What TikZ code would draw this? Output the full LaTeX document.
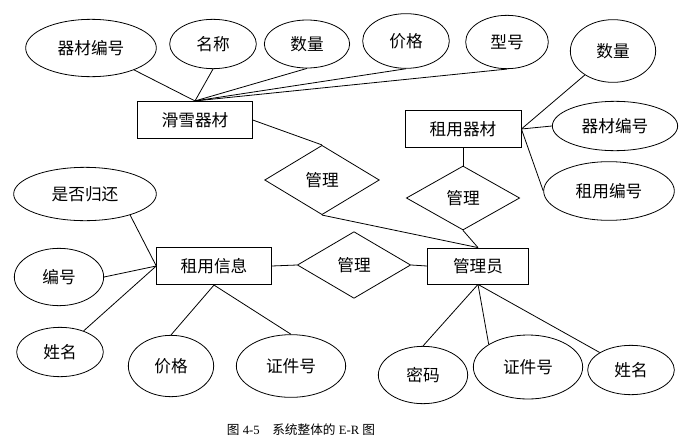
\documentclass[tikz,border=0pt]{standalone}
\usepackage{fontspec}
\setmainfont{Liberation Serif}
\newfontfamily\cjk{Noto Sans CJK SC}
\usetikzlibrary{shapes.geometric}

\tikzset{
    attr/.style={draw, ellipse, inner sep=0pt, font=\cjk\fontsize{12.5}{14}\selectfont},
    entity/.style={draw, rectangle, inner sep=0pt, font=\cjk\fontsize{12.5}{14}\selectfont},
    relation/.style={draw, diamond, inner sep=0pt, aspect=1.7, font=\cjk\fontsize{12.5}{14}\selectfont},
    link/.style={line width=0.6pt}
}

\begin{document}
\begin{tikzpicture}[x=0.75pt, y=-0.75pt, line width=0.6pt]
    \useasboundingbox (0,0) rectangle (695,446);

    \node[entity, minimum width=86pt, minimum height=28pt] (skis) at (195,120) {滑雪器材};
    \node[entity, minimum width=87pt, minimum height=28pt] (rentgear) at (463,129) {租用器材};
    \node[entity, minimum width=86pt, minimum height=28pt] (rentinfo) at (214,266) {租用信息};
    \node[entity, minimum width=76pt, minimum height=27pt] (admin) at (478,266) {管理员};

    \node[relation, minimum width=86pt, minimum height=52pt] (mgrA) at (322,180) {管理};
    \node[relation, minimum width=85pt, minimum height=48pt] (mgrB) at (463,198) {管理};
    \node[relation, minimum width=85pt, minimum height=50pt] (mgrC) at (354,265) {管理};

    \node[attr, minimum width=98pt, minimum height=43pt] (skiId) at (91,48) {器材编号};
    \node[attr, minimum width=65pt, minimum height=37pt] (skiName) at (213,44) {名称};
    \node[attr, minimum width=64pt, minimum height=36pt] (skiNum) at (307,44) {数量};
    \node[attr, minimum width=65pt, minimum height=41pt] (skiPrice) at (406,41) {价格};
    \node[attr, minimum width=62pt, minimum height=40pt] (skiModel) at (507,42) {型号};

    \node[attr, minimum width=64pt, minimum height=47pt] (rgNum) at (613,51) {数量};
    \node[attr, minimum width=94pt, minimum height=37pt] (rgId) at (615,126) {器材编号};
    \node[attr, minimum width=98pt, minimum height=44pt] (rgRent) at (609,191) {租用编号};

    \node[attr, minimum width=107pt, minimum height=40pt] (riBack) at (85,194) {是否归还};
    \node[attr, minimum width=67pt, minimum height=43pt] (riId) at (59,277) {编号};
    \node[attr, minimum width=65pt, minimum height=37pt] (riName) at (60,352) {姓名};
    \node[attr, minimum width=64pt, minimum height=46pt] (riPrice) at (171,366) {价格};
    \node[attr, minimum width=82pt, minimum height=47pt] (riCard) at (291,366) {证件号};

    \node[attr, minimum width=67pt, minimum height=43pt] (adPwd) at (423,375) {密码};
    \node[attr, minimum width=82pt, minimum height=48pt] (adCard) at (528,367) {证件号};
    \node[attr, minimum width=65pt, minimum height=37pt] (adName) at (631,370) {姓名};

    \draw[link] (skiId) -- (skis.north);
    \draw[link] (skiName.south) -- (skis.north);
    \draw[link] (skiNum.south) -- (skis.north);
    \draw[link] (skiPrice.south) -- (skis.north);
    \draw[link] (skiModel.south) -- (skis.north);

    \draw[link] (rgNum) -- (rentgear.east);
    \draw[link] (rgId.west) -- (rentgear.east);
    \draw[link] (rgRent.west) -- (rentgear.east);

    \draw[link] (riBack.-25) -- (rentinfo.west);
    \draw[link] (riId.east) -- (rentinfo.west);
    \draw[link] (riName) -- (rentinfo.west);
    \draw[link] (riPrice.north) -- (rentinfo.south);
    \draw[link] (riCard.north) -- (rentinfo.south);

    \draw[link] (adPwd.north) -- (admin.south);
    \draw[link] (adCard.150) -- (admin.south);
    \draw[link] (adName) -- (admin.south);

    \draw[link] (skis.east) -- (mgrA.north);
    \draw[link] (mgrA.south) -- (admin.north);
    \draw[link] (rentgear.south) -- (mgrB.north);
    \draw[link] (mgrB.south) -- (admin.north);
    \draw[link] (rentinfo.east) -- (mgrC.west);
    \draw[link] (mgrC.east) -- (admin.west);

    \node[font=\fontsize{9.5}{11}\selectfont] (caption) at (301,430) {{\cjk 图} 4-5\quad{\cjk 系统整体的} E-R {\cjk 图}};
\end{tikzpicture}
\end{document}
